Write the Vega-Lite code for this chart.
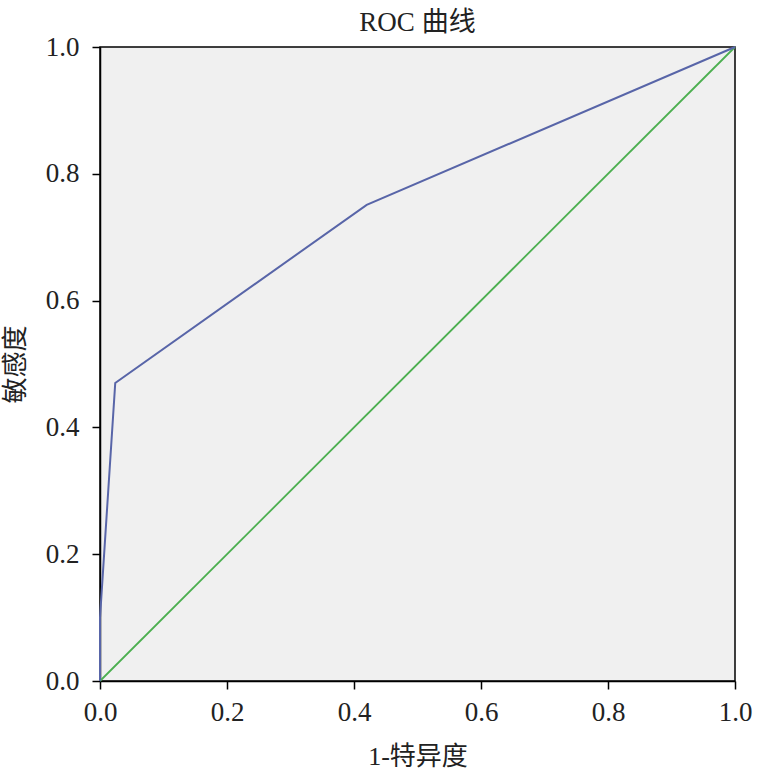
{
  "$schema": "https://vega.github.io/schema/vega-lite/v6.json",
  "width": 635,
  "height": 634,
  "autosize": {"type": "none"},
  "padding": {"left": 100, "top": 47, "right": 39, "bottom": 88},
  "background": "white",
  "title": {"text": "ROC 曲线", "font": "Liberation Serif, Noto Sans CJK SC", "fontSize": 27, "fontWeight": "normal", "color": "#222", "offset": -4},
  "config": {
    "view": {"fill": "#f0f0f0", "stroke": "black", "strokeWidth": 1.5},
    "axis": {
      "labelFont": "Liberation Serif", "labelFontSize": 27, "labelColor": "#222", "labelFlush": false,
      "titleFont": "Liberation Serif, Noto Sans CJK SC", "titleFontSize": 26, "titleFontWeight": "normal", "titleColor": "#222",
      "domainColor": "black", "domainWidth": 1.5, "tickColor": "black", "tickWidth": 1.5, "tickSize": 8,
      "grid": false
    }
  },
  "datasets": {
    "roc": [
      {"fpr": 0.0, "tpr": 0.0, "ord": 0},
      {"fpr": 0.0, "tpr": 0.1, "ord": 1},
      {"fpr": 0.024, "tpr": 0.47, "ord": 2},
      {"fpr": 0.42, "tpr": 0.751, "ord": 3},
      {"fpr": 1.0, "tpr": 1.0, "ord": 4}
    ],
    "ref": [
      {"fpr": 0.0, "tpr": 0.0, "ord": 0},
      {"fpr": 1.0, "tpr": 1.0, "ord": 1}
    ]
  },
  "encoding": {
    "x": {"field": "fpr", "type": "quantitative", "scale": {"domain": [0, 1], "nice": false},
      "axis": {"title": "1-特异度", "format": ".1f", "values": [0, 0.2, 0.4, 0.6, 0.8, 1.0], "labelPadding": 10, "titlePadding": 18}},
    "y": {"field": "tpr", "type": "quantitative", "scale": {"domain": [0, 1], "nice": false},
      "axis": {"title": "敏感度", "format": ".1f", "values": [0, 0.2, 0.4, 0.6, 0.8, 1.0], "labelPadding": 13, "titlePadding": 17}},
    "order": {"field": "ord", "type": "quantitative"}
  },
  "layer": [
    {"data": {"name": "ref"}, "mark": {"type": "line", "color": "#4caf50", "strokeWidth": 1.8}},
    {"data": {"name": "roc"}, "mark": {"type": "line", "color": "#5865a8", "strokeWidth": 2}}
  ]
}
